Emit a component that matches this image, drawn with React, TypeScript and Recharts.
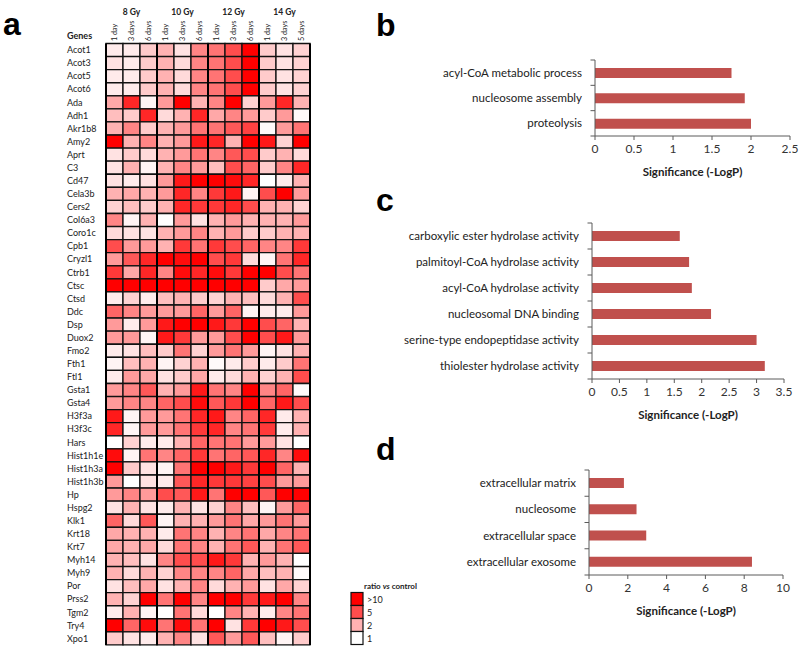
import React from 'react';
import { BarChart, Bar, XAxis, YAxis, Cell, ReferenceLine, Legend } from 'recharts';

const genes = ['Acot1','Acot3','Acot5','Acot6','Ada','Adh1','Akr1b8','Amy2','Aprt','C3','Cd47','Cela3b','Cers2','Col6a3','Coro1c','Cpb1','Cryzl1','Ctrb1','Ctsc','Ctsd','Ddc','Dsp','Duox2','Fmo2','Fth1','Ftl1','Gsta1','Gsta4','H3f3a','H3f3c','Hars','Hist1h1e','Hist1h3a','Hist1h3b','Hp','Hspg2','Klk1','Krt18','Krt7','Myh14','Myh9','Por','Prss2','Tgm2','Try4','Xpo1'];
const doses = ['8 Gy', '10 Gy', '12 Gy', '14 Gy'];
const dayLabels = ['1 day','3 days','6 days','1 day','3 days','6 days','1 day','3 days','6 days','1 day','3 days','5 days'];

// ratio vs control, per dose: [1 day, 3 days, 6 (or 5) days] for each gene
const gy8 = [
  [1.2,1.2,1.6],[1.3,1.2,1.6],[1.2,1.2,1.6],[1.2,1.2,1.6],[2.2,7,1.1],[1.8,1.6,7],[2,3,1.6],[10,2,3],[1.3,1.6,1.4],[1.3,2,1.1],
  [1.3,1.2,1.3],[2,2.2,2],[1.5,1.8,1.6],[3,1.1,2],[1.4,1.3,1.3],[5,2.5,2.5],[2.5,4.5,7],[6,2.2,7],[10,10,10],[1.2,1.5,1.2],
  [4,3,2.5],[2.5,1.2,2.5],[2.5,2.5,1.1],[1.2,1.3,1.8],[1.1,1.8,2],[1.2,2.5,2.2],[2.5,3,4.5],[2.5,3,3],[8,1.1,2.5],[7,1.1,2.5],
  [1,1.5,1.2],[9,1.1,3.5],[10,1.6,1.3],[2.5,1,1.3],[2.5,3,2.5],[1.3,2,1.3],[4,1.4,4.5],[2.2,2,2],[2.2,2,2.2],[2,1.8,1.3],
  [2,1.4,2],[1.3,1.8,2.2],[2,1.5,10],[1.2,2,1.1],[10,4,9],[1.6,1.3,1.2],
];
const gy10 = [
  [2,1.3,3],[2,1.4,3],[2,1.4,3],[2,1.4,3],[2.5,10,2],[1.4,2,7],[2,2.5,3.5],[2,2.5,8],[2,2.5,3.5],[2,3,2.5],
  [2.5,8,10],[2.5,7,3],[2,7,6],[1,2.5,1.3],[2,2.5,3],[2,6,3.5],[10,9,10],[3,9,7],[10,10,10],[1.8,2,1.6],
  [2.5,2.5,4],[8,10,10],[8,6,2.5],[1.6,3.5,1.5],[1.1,1.5,2],[1.3,1.6,2.2],[2,2.5,8],[4,5,9],[2.5,3.5,7],[2.5,3.5,6],
  [1.2,2,4],[3,4,6],[1.1,3.5,10],[1.2,4.5,7],[5,4.5,8],[1.2,2,1.3],[1.1,2,2],[1.2,3.5,3],[1.4,3.5,3],[3,5,5],
  [1.5,3,3],[1.3,2,3],[3.5,10,3],[1,3.5,1.4],[3.5,9,3.5],[2,3,1.3],
];
const gy12 = [
  [3.5,5,10],[3.5,5,10],[3.5,5,10],[3.5,5,10],[3,10,1.5],[2.2,3,2.5],[3.5,4.5,5.5],[7,2,10],[3,4.5,5],[1.8,5,4],
  [10,9,7],[6,8,1.1],[6,7,5],[2,2.5,2],[2,2.5,1.6],[6,5,4],[5,6,1.4],[9,6,10],[10,10,10],[1.5,2,1.8],
  [2.5,4,1.1],[8,6,10],[2.5,5,10],[2.5,3.5,2.5],[1.05,1.2,1.6],[1.2,1.4,2],[3.5,3,10],[4.5,6,10],[8,3,4],[7,3,3.5],
  [3.5,3.5,2.5],[3.5,4,4.5],[10,8,6],[6,6,5.5],[3.5,10,10],[1.5,3,1.8],[2.5,3.5,2.2],[2,3,3.5],[2,3.5,4.5],[8,6,2],
  [3,4,2.2],[1.4,2,2.5],[10,10,6],[1,3,2],[10,1.3,6],[4.5,2.5,4.5],
];
const gy14 = [
  [1.6,1.3,1.5],[1.6,1.3,1.5],[1.6,1.3,1.5],[1.6,1.3,1.5],[2.5,7,2],[1.6,2.5,1.05],[1.05,2.5,3.5],[8,1.5,10],[1.6,2,1.4],[1.6,3,7],
  [1,1.2,2],[5,10,2.5],[2,2,1.5],[2,2,2.5],[1.6,2,2],[3,3,6],[1.1,3.5,7],[10,5,3.5],[1.6,2.2,2.5],[1.4,2,5],
  [1.2,1.2,2.5],[5,4,2],[5,8,2.5],[1.1,1.3,2],[1.2,1.6,3.5],[1.5,2,5],[3,4,1.05],[4,8,5],[7,1.2,2],[6,1.2,2],
  [2.5,1.3,1],[7,3,9],[10,4,2],[5,2.5,2.5],[4.5,10,10],[1.1,2.5,4],[2.5,3.5,2.5],[2.2,3,3.5],[2,3.5,4.5],[2.5,2,1],
  [1.8,2,1.05],[1.3,2.2,1.5],[8,10,3],[1.2,3,3.5],[10,8,5],[1.8,1.1,1.6],
];

const legendLabels = ['>10', '5', '2', '1'];
const legendValues = [10, 5, 2, 1];

const bTerms = ['acyl-CoA metabolic process', 'nucleosome assembly', 'proteolysis'];
const bValues = [1.75, 1.92, 2.0];
const bTicks = [0, 0.5, 1, 1.5, 2, 2.5];

const cTerms = ['carboxylic ester hydrolase activity', 'palmitoyl-CoA hydrolase activity', 'acyl-CoA hydrolase activity', 'nucleosomal DNA binding', 'serine-type endopeptidase  activity', 'thiolester hydrolase activity'];
const cValues = [1.6, 1.77, 1.82, 2.17, 3.0, 3.15];
const cTicks = [0, 0.5, 1, 1.5, 2, 2.5, 3, 3.5];

const dTerms = ['extracellular matrix', 'nucleosome', 'extracellular space', 'extracellular exosome'];
const dValues = [1.8, 2.45, 2.95, 8.4];
const dTicks = [0, 2, 4, 6, 8, 10];

const FONT = 'Lato, "Liberation Sans", sans-serif';
const BAR_COLOR = '#c0504d';
const AXIS_COLOR = '#5a5a5a';

function heatColor(v: number) {
  const t = Math.max(0, Math.min(1, Math.log(Math.max(v, 1)) / Math.log(10)));
  const g = Math.round(255 * (1 - t));
  return `rgb(255,${g},${g})`;
}

const matrix = genes.map((_, i) => [...gy8[i], ...gy10[i], ...gy12[i], ...gy14[i]]);
const colKeys = dayLabels.map((_, j) => `c${j}`);
const heatRows = genes.map((g) => {
  const row: any = { gene: g };
  colKeys.forEach((k) => (row[k] = 1));
  return row;
});
const colTicks = dayLabels.map((_, j) => j + 0.5);

const GeneTick = (props: any) => {
  const { y, payload } = props;
  return (
    <text x={67} y={y} dy={3.2} fontSize={9} fontFamily={FONT} fill="#222">
      {payload.value}
    </text>
  );
};

const DayTick = (props: any) => {
  const { x, payload } = props;
  const idx = Math.round(payload.value - 0.5);
  return (
    <g>
      <text transform={`rotate(-90 ${x + 2.7} 41)`} x={x + 2.7} y={41} fontSize={7.2} fontFamily={FONT} fill="#222">
        {dayLabels[idx]}
      </text>
      {idx % 3 === 1 && (
        <text x={x} y={15} textAnchor="middle" fontSize={8.5} fontWeight={700} fontFamily={FONT} fill="#222">
          {doses[(idx - 1) / 3]}
        </text>
      )}
    </g>
  );
};

const HeatLegend = () => (
  <svg width={100} height={72} style={{ overflow: 'visible' }}>
    <text x={24} y={13} fontSize={8} fontWeight={700} fontFamily={FONT} fill="#222">
      ratio <tspan fontStyle="italic">vs</tspan> control
    </text>
    {legendValues.map((v, i) => (
      <g key={i}>
        <rect x={11} y={16.5 + i * 13} width={12} height={13} fill={heatColor(v)} stroke="#111" strokeWidth={1.2} />
        <text x={27} y={26.5 + i * 13} fontSize={9} fontFamily={FONT} fill="#222">
          {legendLabels[i]}
        </text>
      </g>
    ))}
  </svg>
);

function Heatmap() {
  return (
    <BarChart
      layout="vertical"
      width={400}
      height={650}
      data={heatRows}
      margin={{ top: 3.5, right: 90, bottom: 5, left: 0 }}
      barCategoryGap={0}
      barGap={0}
    >
      <XAxis
        type="number"
        orientation="top"
        domain={[0, 12]}
        ticks={colTicks}
        interval={0}
        height={40}
        axisLine={false}
        tickLine={false}
        tick={(p: any) => <DayTick {...p} />}
      />
      <YAxis
        type="category"
        dataKey="gene"
        width={106}
        interval={0}
        axisLine={false}
        tickLine={false}
        tick={(p: any) => <GeneTick {...p} />}
      />
      {colKeys.map((k, j) => (
        <Bar key={k} dataKey={k} stackId="heat" isAnimationActive={false}>
          {genes.map((g, i) => (
            <Cell key={g} fill={heatColor(matrix[i][j])} stroke="#111" strokeWidth={1.3} />
          ))}
        </Bar>
      ))}
      {[0, 3, 6, 9, 12].map((x) => (
        <ReferenceLine key={x} x={x} stroke="#000" strokeWidth={2} />
      ))}
      <Legend
        layout="horizontal"
        verticalAlign="middle"
        align="center"
        content={() => <HeatLegend />}
        wrapperStyle={{ left: 340, top: 576, width: 100, height: 72 }}
      />
    </BarChart>
  );
}

function GoChart(props: {
  terms: string[];
  values: number[];
  ticks: number[];
  max: number;
  top: number;
  plotH: number;
  yW: number;
  right: number;
}) {
  const { terms, values, ticks, max, top, plotH, yW, right } = props;
  const data = terms.map((t, i) => ({ term: t, value: values[i] }));
  const n = terms.length;
  const band = plotH / n;
  const CatTick = (p: any) => {
    const { y, payload, index } = p;
    return (
      <g>
        <line x1={yW - 4.5} x2={yW} y1={y - band / 2} y2={y - band / 2} stroke={AXIS_COLOR} strokeWidth={1} />
        {index === n - 1 && (
          <line x1={yW - 4.5} x2={yW} y1={y + band / 2} y2={y + band / 2} stroke={AXIS_COLOR} strokeWidth={1} />
        )}
        <text x={yW - 13} y={y} dy={4} textAnchor="end" fontSize={11.5} fontFamily={FONT} fill="#222">
          {payload.value}
        </text>
      </g>
    );
  };
  return (
    <div style={{ position: 'absolute', left: 380, top }}>
      <BarChart
        layout="vertical"
        width={420}
        height={20 + plotH + 45}
        data={data}
        margin={{ top: 20, right, bottom: 0, left: 0 }}
        barCategoryGap={0}
      >
        <XAxis
          type="number"
          domain={[0, max]}
          ticks={ticks}
          interval={0}
          height={45}
          stroke={AXIS_COLOR}
          tickSize={4}
          tickMargin={4}
          tick={{ fontSize: 12, fill: '#333', fontFamily: FONT }}
          label={{
            value: 'Significance (-LogP)',
            position: 'insideBottom',
            offset: 5,
            style: { fontSize: 11.5, fontWeight: 700, fill: '#222', fontFamily: FONT },
          }}
        />
        <YAxis
          type="category"
          dataKey="term"
          width={yW}
          interval={0}
          stroke={AXIS_COLOR}
          tickLine={false}
          tick={(p: any) => <CatTick {...p} />}
        />
        <Bar dataKey="value" fill={BAR_COLOR} barSize={10} isAnimationActive={false} />
      </BarChart>
    </div>
  );
}

export default function App() {
  return (
    <div style={{ position: 'absolute', left: 0, top: 0, width: 800, height: 650, background: '#fff', overflow: 'hidden' }}>
      <div style={{ position: 'absolute', left: 0, top: 0 }}>
        <Heatmap />
      </div>
      <GoChart terms={bTerms} values={bValues} ticks={bTicks} max={2.5} top={40} plotH={76} yW={215} right={10} />
      <GoChart terms={cTerms} values={cValues} ticks={cTicks} max={3.5} top={203} plotH={156} yW={212} right={16} />
      <GoChart terms={dTerms} values={dValues} ticks={dTicks} max={10} top={450} plotH={105} yW={209} right={17} />
      <svg width={800} height={650} style={{ position: 'absolute', left: 0, top: 0, pointerEvents: 'none' }}>
        <g fontFamily='"Liberation Sans", Arial, sans-serif' fontWeight={700} fontSize={32} fill="#000">
          <text x={3} y={35}>a</text>
          <text x={376} y={36}>b</text>
          <text x={376} y={211}>c</text>
          <text x={376} y={460}>d</text>
        </g>
        <text x={67} y={39} fontSize={9} fontWeight={700} fontFamily={FONT} fill="#222">Genes</text>
      </svg>
    </div>
  );
}
